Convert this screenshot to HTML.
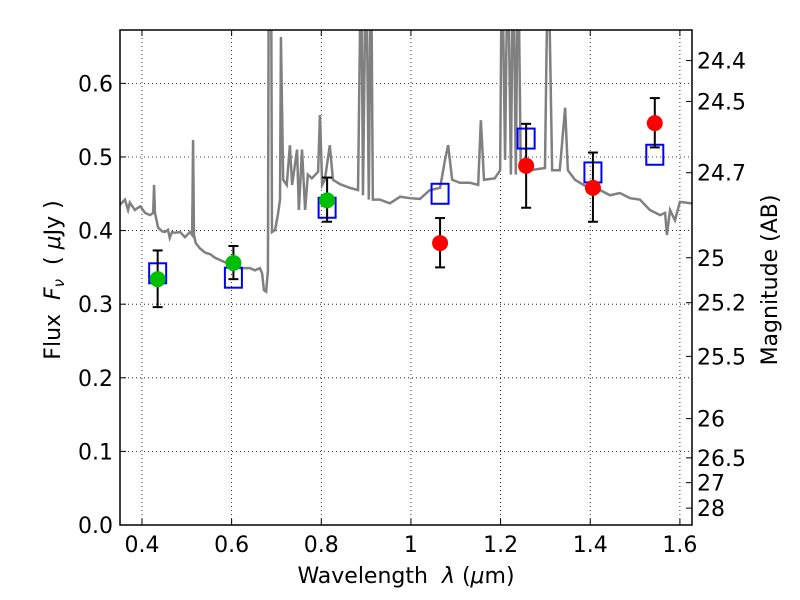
<!DOCTYPE html>
<html><head><meta charset="utf-8"><style>
body{margin:0;background:#fff}
svg{display:block;font-family:"DejaVu Sans","Liberation Sans",sans-serif}
</style></head><body>
<svg id="c" width="800" height="600"></svg>
<script>
const specLam=[0.351,0.362,0.369,0.373,0.384,0.396,0.407,0.418,0.425,0.427,0.429,0.436,0.445,0.451,0.458,0.462,0.467,0.474,0.485,0.496,0.507,0.512,0.514,0.516,0.520,0.529,0.541,0.552,0.563,0.574,0.585,0.596,0.607,0.619,0.641,0.652,0.663,0.668,0.672,0.677,0.681,0.683,0.688,0.690,0.697,0.703,0.708,0.710,0.715,0.723,0.730,0.735,0.746,0.750,0.757,0.764,0.770,0.779,0.793,0.797,0.802,0.808,0.819,0.826,0.842,0.864,0.882,0.889,0.893,0.900,0.906,0.911,0.915,0.931,0.953,0.976,0.998,1.020,1.042,1.065,1.076,1.083,1.092,1.109,1.132,1.150,1.156,1.163,1.187,1.199,1.203,1.210,1.216,1.223,1.228,1.234,1.239,1.245,1.265,1.299,1.306,1.315,1.332,1.344,1.350,1.366,1.388,1.422,1.444,1.466,1.489,1.511,1.533,1.556,1.567,1.571,1.578,1.589,1.600,1.627];
const specFlux=[0.435,0.442,0.428,0.438,0.428,0.433,0.424,0.421,0.424,0.462,0.424,0.404,0.399,0.398,0.401,0.390,0.398,0.397,0.398,0.391,0.398,0.394,0.523,0.394,0.383,0.376,0.370,0.368,0.363,0.360,0.357,0.355,0.352,0.349,0.349,0.346,0.349,0.342,0.319,0.317,0.346,0.8,0.8,0.398,0.401,0.421,0.442,0.663,0.469,0.462,0.516,0.462,0.510,0.428,0.510,0.428,0.476,0.471,0.480,0.557,0.462,0.469,0.516,0.469,0.463,0.458,0.455,0.8,0.448,0.8,0.442,0.8,0.442,0.442,0.437,0.446,0.444,0.443,0.455,0.458,0.496,0.516,0.469,0.465,0.465,0.462,0.550,0.469,0.471,0.482,0.8,0.496,0.8,0.476,0.8,0.476,0.8,0.482,0.482,0.485,0.8,0.482,0.482,0.567,0.482,0.469,0.461,0.455,0.448,0.451,0.444,0.442,0.428,0.421,0.424,0.394,0.428,0.414,0.439,0.437];
const greenLam=[0.435,0.604,0.813];
const greenFlux=[0.334,0.356,0.441];
const greenLo=[0.296,0.334,0.412];
const greenHi=[0.373,0.379,0.472];
const redLam=[1.065,1.257,1.406,1.544];
const redFlux=[0.383,0.488,0.458,0.546];
const redLo=[0.350,0.431,0.412,0.513];
const redHi=[0.417,0.545,0.506,0.580];
const modelLam=[0.435,0.604,0.813,1.065,1.257,1.406,1.544];
const modelFlux=[0.342,0.336,0.431,0.450,0.525,0.479,0.503];
const xTicks=[0.4,0.6,0.8,1.0,1.2,1.4,1.6];
const xTickLabels=["0.4","0.6","0.8","1","1.2","1.4","1.6"];
const yTicks=[0,0.1,0.2,0.3,0.4,0.5,0.6];
const yTickLabels=["0.0","0.1","0.2","0.3","0.4","0.5","0.6"];
const magTicks=[24.4,24.5,24.7,25,25.2,25.5,26,26.5,27,28];
const magLabels=["24.4","24.5","24.7","25","25.2","25.5","26","26.5","27","28"];

const L=120,R=692,T=30,B=525,X0=0.351,X1=1.627,Y0=0,Y1=0.6725;
const sx=v=>L+(v-X0)/(X1-X0)*(R-L);
const sy=v=>B-(v-Y0)/(Y1-Y0)*(B-T);
const NS="http://www.w3.org/2000/svg";
const svg=document.getElementById('c');
function mk(t,a,p){const e=document.createElementNS(NS,t);for(const k in a)e.setAttribute(k,a[k]);(p||svg).appendChild(e);return e;}
const defs=mk('defs',{});const cp=mk('clipPath',{id:'cl'},defs);mk('rect',{x:L,y:T,width:R-L,height:B-T},cp);

xTicks.forEach((v,i)=>{const x=sx(v);
 const g=mk('line',{x1:x,x2:x,y1:T,y2:B,stroke:'#000','stroke-width':0.8,'stroke-dasharray':'1,3'});
 
 mk('line',{x1:x,x2:x,y1:B,y2:B-6,stroke:'#000'});mk('line',{x1:x,x2:x,y1:T,y2:T+6,stroke:'#000'});
 const t=mk('text',{x:x,y:B+27,'text-anchor':'middle','font-size':22});t.textContent=xTickLabels[i];
 });
yTicks.forEach((v,i)=>{const y=sy(v);
 const g=mk('line',{x1:L,x2:R,y1:y,y2:y,stroke:'#000','stroke-width':0.8,'stroke-dasharray':'1,3'});
 
 mk('line',{x1:L,x2:L+6,y1:y,y2:y,stroke:'#000'});
 const t=mk('text',{x:L-7,y:y+8,'text-anchor':'end','font-size':22});t.textContent=yTickLabels[i];
 });
magTicks.forEach((m,i)=>{const y=sy(Math.pow(10,(23.9-m)/2.5));
 mk('line',{x1:R,x2:R-6,y1:y,y2:y,stroke:'#000'});
 const t=mk('text',{x:R+5,y:y+8,'font-size':22});t.textContent=magLabels[i];
 });

const sp=mk('polyline',{points:specLam.map((l,i)=>sx(l)+','+sy(specFlux[i])).join(' '),fill:'none',stroke:'#808080','stroke-width':2.5,'clip-path':'url(#cl)'});


modelLam.forEach((l,i)=>{const x=sx(l),y=sy(modelFlux[i]);
 const r=mk('rect',{x:x-8.5,y:y-10,width:17,height:20,fill:'none',stroke:'#0000ff','stroke-width':2});
 });
function pts(lam,f,lo,hi,col,name){lam.forEach((l,i)=>{const x=sx(l);
 mk('line',{x1:x,x2:x,y1:sy(lo[i]),y2:sy(hi[i]),stroke:'#000','stroke-width':2});
 mk('line',{x1:x-5,x2:x+5,y1:sy(lo[i]),y2:sy(lo[i]),stroke:'#000','stroke-width':2});
 mk('line',{x1:x-5,x2:x+5,y1:sy(hi[i]),y2:sy(hi[i]),stroke:'#000','stroke-width':2});
 const c=mk('circle',{cx:x,cy:sy(f[i]),r:8,fill:col});
 });}
pts(greenLam,greenFlux,greenLo,greenHi,'#00bf00','green-photometry-point');
pts(redLam,redFlux,redLo,redHi,'#ff0000','red-photometry-point');

const fr=mk('rect',{x:L,y:T,width:R-L,height:B-T,fill:'none',stroke:'#000','stroke-width':1.5});

const xl=mk('text',{x:406,y:583,'text-anchor':'middle','font-size':22});
xl.innerHTML='Wavelength\u00a0\u00a0<tspan font-style="italic">λ</tspan>\u00a0(<tspan font-style="italic">μ</tspan>m)';

const yl=mk('text',{x:0,y:0,'text-anchor':'middle','font-size':22,transform:'translate(60,280) rotate(-90)'});
yl.innerHTML='Flux\u00a0\u00a0<tspan font-style="italic">F</tspan><tspan font-style="italic" font-size="15" dy="4">ν</tspan><tspan dy="-4">\u00a0\u00a0(\u00a0<tspan font-style="italic">μ</tspan>Jy\u00a0)</tspan>';

const ml=mk('text',{x:0,y:0,'text-anchor':'middle','font-size':22,transform:'translate(777,280) rotate(-90)'});ml.textContent='Magnitude (AB)';

</script>
</body></html>
